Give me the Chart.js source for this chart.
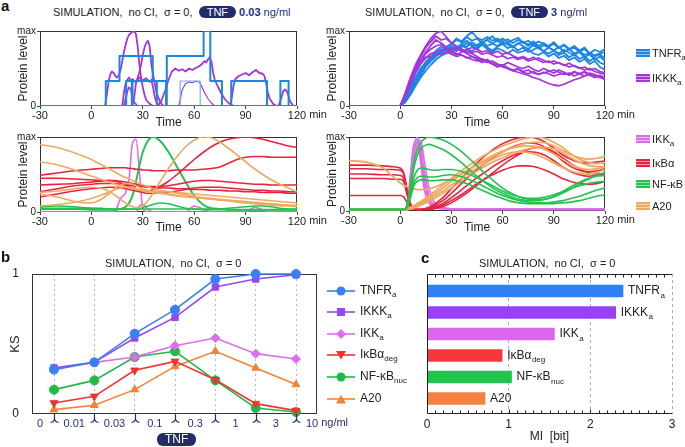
<!DOCTYPE html>
<html>
<head>
<meta charset="utf-8">
<title>TNF signalling simulation</title>
<script src="https://cdn.jsdelivr.net/npm/chart.js@4.4.1/dist/chart.umd.min.js"></script>
<style>
  body { margin: 0; background: #fff; }
  #fig { position: relative; width: 685px; height: 447px; overflow: hidden;
         font-family: "Liberation Sans", Arial, sans-serif; color: #222; }
  #fig canvas { position: absolute; }
  .txt { position: absolute; white-space: nowrap; font-size: 11px; line-height: 12px; }
  .letter { position: absolute; font-weight: bold; font-size: 15px; line-height: 16px; color: #111; }
  .pill { display: inline-block; background: #232b6c; color: #fff; border-radius: 6px;
          padding: 0 8px; height: 12px; line-height: 12px; vertical-align: top; }
  .navy { color: #252f86; }
  sub { font-size: 8px; vertical-align: baseline; position: relative; top: 3px; line-height: 0; }
  .key { position: absolute; white-space: nowrap; font-size: 11px; line-height: 12px; }
  .swatch { display: inline-block; width: 14px; height: 8px; margin-right: 2px; vertical-align: 0; }
  .lgb { position: absolute; white-space: nowrap; font-size: 12px; line-height: 14px; }
  .lgb svg { vertical-align: middle; margin-right: 4px; }
</style>
</head>
<body>
<div id="fig">
  <canvas id="aLowTop" width="340" height="112" style="left:0;top:20px"></canvas>
  <canvas id="aHighTop" width="320" height="112" style="left:315px;top:20px"></canvas>
  <canvas id="aLowBot" width="340" height="115" style="left:0;top:125px"></canvas>
  <canvas id="aHighBot" width="320" height="115" style="left:315px;top:125px"></canvas>
  <canvas id="bKS" width="360" height="205" style="left:0;top:240px"></canvas>
  <canvas id="cMI" width="335" height="205" style="left:350px;top:240px"></canvas>

  <div class="letter" style="left:1px;top:-2px">a</div>
  <div class="letter" style="left:1px;top:249px">b</div>
  <div class="letter" style="left:421px;top:250px">c</div>

  <div class="txt" style="left:53px;top:6px">SIMULATION,&nbsp; no CI,&nbsp; σ = 0,&nbsp; <span class="pill">TNF</span> <b class="navy">0.03</b> <span class="navy">ng/ml</span></div>
  <div class="txt" style="left:365px;top:6px">SIMULATION,&nbsp; no CI,&nbsp; σ = 0,&nbsp; <span class="pill">TNF</span> <b class="navy">3</b> <span class="navy">ng/ml</span></div>
  <div class="txt" style="left:105px;top:257px">SIMULATION,&nbsp; no CI,&nbsp; σ = 0</div>
  <div class="txt" style="left:479px;top:257px">SIMULATION,&nbsp; no CI,&nbsp; σ = 0</div>
  <div class="txt" style="left:157px;top:433px"><span class="pill" style="padding:0 8px;font-size:12px;height:13px;line-height:13px">TNF</span></div>

  <div class="key" style="left:636px;top:47px"><span class="swatch" style="background:repeating-linear-gradient(#1a86e6 0 2px,#8cc2f4 2px 3px)"></span>TNFR<sub>a</sub></div>
  <div class="key" style="left:636px;top:72px"><span class="swatch" style="background:repeating-linear-gradient(#a236dc 0 2px,#d5a6f0 2px 3px)"></span>IKKK<sub>a</sub></div>
  <div class="key" style="left:636px;top:133px"><span class="swatch" style="background:repeating-linear-gradient(#dc6ee8 0 2px,#f0bdf4 2px 3px)"></span>IKK<sub>a</sub></div>
  <div class="key" style="left:636px;top:157px"><span class="swatch" style="background:repeating-linear-gradient(#e8233e 0 2px,#f59aa8 2px 3px)"></span>IκBα</div>
  <div class="key" style="left:636px;top:178px"><span class="swatch" style="background:repeating-linear-gradient(#22c24f 0 2px,#96e2aa 2px 3px)"></span>NF-κB</div>
  <div class="key" style="left:636px;top:200px"><span class="swatch" style="background:repeating-linear-gradient(#eeaa62 0 2px,#f7d7b2 2px 3px)"></span>A20</div>

  <div class="lgb" style="left:326px;top:283px"><svg width="30" height="12"><line x1="1" y1="6" x2="29" y2="6" stroke="#3b7ff2" stroke-width="1.6"/><circle cx="15" cy="6" r="4.5" fill="#3b7ff2"/></svg>TNFR<sub>a</sub></div>
  <div class="lgb" style="left:326px;top:304px"><svg width="30" height="12"><line x1="1" y1="6" x2="29" y2="6" stroke="#9a46f0" stroke-width="1.6"/><rect x="11" y="2" width="8" height="8" fill="#9a46f0"/></svg>IKKK<sub>a</sub></div>
  <div class="lgb" style="left:326px;top:326px"><svg width="30" height="12"><line x1="1" y1="6" x2="29" y2="6" stroke="#dd6cf0" stroke-width="1.6"/><polygon points="15,1 20,6 15,11 10,6" fill="#dd6cf0"/></svg>IKK<sub>a</sub></div>
  <div class="lgb" style="left:326px;top:347px"><svg width="30" height="12"><line x1="1" y1="6" x2="29" y2="6" stroke="#f03232" stroke-width="1.6"/><polygon points="10,2 20,2 15,10.5" fill="#f03232"/></svg>IκBα<sub>deg</sub></div>
  <div class="lgb" style="left:326px;top:369px"><svg width="30" height="12"><line x1="1" y1="6" x2="29" y2="6" stroke="#22b84a" stroke-width="1.6"/><circle cx="15" cy="6" r="4.5" fill="#22b84a"/></svg>NF-κB<sub>nuc</sub></div>
  <div class="lgb" style="left:326px;top:391px"><svg width="30" height="12"><line x1="1" y1="6" x2="29" y2="6" stroke="#f58232" stroke-width="1.6"/><polygon points="10,10.5 20,10.5 15,2" fill="#f58232"/></svg>A20</div>
</div>

<script>
// ---- panel a : time axis ----
const timeTicks = [-30, 0, 30, 60, 90, 120];

// 0.03 ng/ml, active receptors (count of 3 = max) as step changes
const tnfrLowT = [
  [-30, 8.4, 16.4, 35.8, 43.6, 120],
  [-30, 20.3, 23.6, 81.6, 102.5, 120],
  [-30, 24, 38.2, 110.3, 115.1, 120],
  [-30, 44, 65.5, 69.4, 76.2, 120],
  [-30, 51.8, 63.5, 120]
];
const tnfrLowN = [
  [0, 1, 2, 1, 0, 0],
  [0, 1, 0, 1, 0, 0],
  [0, 1, 0, 1, 0, 0],
  [0, 2, 3, 1, 0, 0],
  [0, 1, 0, 0]
];

// 0.03 ng/ml, IKKK_a cells (% of max)
const ikkkLowT = [
  [-30,8,9,10,11,12,13,14,15,16,17,18,19,20,21,22,23,24,25,26,27,28,29,30,31,32,34,36,120],
  [-30,24,25,26,27,28,29,30,31,32,33,34,35,36,37,38,40,42,120],
  [-30,18,19,20,21,22,23,24,26,28,30,32,34,35,36,37,38,40,120],
  [-30,19,20,21,22,23,24,25,27,120],
  [-30,39,41,43,45,47,49,51,53,55,57,59,61,63,64,65,66,67,68,69,70,71,72,74,76,78,80,83,120],
  [-30,51,52,53,55,57,59,61,63,64,66,68,70,72,120],
  [-30,81,82,83,84,86,88,90,92,94,96,98,100,101,102,103,104,106,108,120],
  [-30,109,110,111,112,113,114,115,116,118,120]
];
const ikkkLowV = [
  [0,0,15,32,42,46,44,40,38,41,48,60,72,82,90,95,97,99,100,96,80,55,38,25,15,8,3,0,0],
  [0,0,12,30,38,45,55,68,78,84,87,80,55,42,30,18,6,0,0],
  [0,0,18,30,35,38,33,36,31,38,34,37,32,35,25,12,5,0,0],
  [0,0,10,20,25,22,12,5,0,0],
  [0,0,8,20,35,46,50,47,49,46,50,48,51,53,55,57,60,58,62,65,60,45,35,25,16,9,4,0,0],
  [0,0,10,22,30,32,31,33,32,28,18,10,4,0,0],
  [0,0,12,28,36,40,42,44,41,45,48,44,43,40,30,18,10,3,0,0],
  [0,0,5,12,20,22,20,14,6,0,0]
];

// 3 ng/ml, noisy TNFR_a / IKKK_a (% of max)
const noisyT = [-30,0,3,6,9,12,15,18,21,24,27,30,33,36,39,42,45,48,51,54,57,60,63,66,69,72,75,78,81,84,87,90,93,96,99,102,105,108,111,114,117,120];
const tnfrHigh = [
  [0,0,8,22,35,48,58,66,74,79,77,83,88,85,92,87,90,84,89,93,86,90,85,88,91,84,87,82,86,83,80,85,78,82,76,80,74,78,70,75,72,76],
  [0,0,6,18,30,41,52,60,66,72,75,71,78,82,79,85,81,86,80,83,88,82,85,79,83,86,80,83,77,81,78,74,79,72,76,70,73,68,71,66,69,63],
  [0,0,10,25,38,50,57,63,70,68,74,80,76,83,87,82,79,84,88,83,80,85,82,78,84,80,76,81,77,73,78,74,70,75,71,68,72,65,69,62,66,60],
  [0,0,5,15,27,38,47,55,62,67,70,76,73,79,84,80,76,82,78,74,79,83,77,80,74,78,72,75,79,73,70,74,68,71,65,69,63,66,60,64,58,55],
  [0,0,7,20,33,44,55,62,68,74,79,83,90,86,93,99,91,88,92,87,90,86,89,84,88,85,82,86,80,84,79,83,77,81,75,78,72,76,70,68,70,72],
  [0,0,9,24,37,49,59,65,71,76,72,78,74,80,77,73,78,82,76,72,77,74,70,75,71,73,76,70,68,72,66,70,64,67,61,65,59,63,56,60,52,48]
];
const ikkkHigh = [
  [0,0,18,38,55,68,80,90,97,100,92,84,80,76,72,70,66,62,58,60,56,54,58,55,52,50,53,49,46,50,47,44,48,45,42,46,43,40,44,42,39,38],
  [0,0,16,35,52,66,78,86,93,88,90,84,78,74,70,66,64,60,62,57,55,52,50,47,45,43,41,38,36,33,30,28,27,29,32,35,37,40,42,40,38,36],
  [0,0,14,30,46,60,70,76,80,82,78,75,77,73,75,71,73,69,71,68,65,67,63,65,62,64,60,62,64,61,58,60,57,55,52,54,51,48,50,46,44,42],
  [0,0,12,28,44,56,64,70,72,74,76,73,70,68,65,62,60,63,59,56,53,55,51,48,50,46,48,44,42,45,43,40,42,44,41,45,43,46,42,39,41,37],
  [0,0,15,33,50,60,65,66,68,70,72,69,66,68,64,66,62,58,60,56,52,54,50,47,49,45,43,46,42,44,46,48,45,42,44,40,43,45,41,38,40,35],
  [0,0,13,31,48,61,72,81,88,84,78,72,68,72,75,78,76,72,74,70,73,69,71,67,64,66,62,65,61,58,60,56,58,54,57,53,50,52,48,50,46,44]
];

// 0.03 ng/ml, downstream species (% of max)
const lowT = [-30,-20,-10,0,5,10,14,17,20,22,24,26,28,30,33,36,40,45,50,55,60,65,70,75,80,85,90,95,100,105,110,115,120];
const ikbaLow = [
  [49,52,55,57,58,59,59,59,59,58,58,57,57,56,56,55,55,55,56,56,56,57,58,60,65,70,73,74,74,73,73,73,73],
  [45,45,44,43,42,42,42,41,40,39,38,37,36,35,34,34,34,35,37,39,41,42,42,41,40,39,38,37,37,36,36,36,36],
  [36,37,38,40,41,42,41,39,36,34,32,30,29,28,28,30,34,41,50,60,70,79,87,93,97,99,100,99,97,94,91,88,86],
  [27,31,35,37,38,38,38,37,36,36,35,35,34,34,33,33,32,32,31,31,30,30,29,29,28,28,27,27,26,26,26,25,25],
  [20,24,28,31,32,33,33,32,31,30,29,28,27,26,25,25,25,26,28,30,32,33,33,33,32,31,30,29,29,28,28,27,27]
];
const a20Low = [
  [90,86,79,70,64,58,53,49,46,44,42,40,38,36,34,31,29,27,25,23,21,19,18,16,15,13,12,11,10,9,8,8,7],
  [67,63,56,48,44,40,37,35,33,32,31,30,29,28,27,26,25,24,22,21,20,19,18,17,16,15,14,13,12,11,10,9,8],
  [24,20,14,12,16,24,32,36,38,38,37,35,33,31,29,27,25,23,21,20,19,18,17,16,15,14,13,12,11,10,10,9,9],
  [26,28,31,33,32,28,22,17,12,9,7,6,6,8,15,25,40,58,74,87,96,100,99,93,85,76,67,58,50,43,37,32,27],
  [8,10,13,18,22,26,30,32,33,33,32,31,30,29,28,27,27,27,26,25,24,23,22,21,20,19,18,17,16,15,14,13,12]
];
const nfkbLow = [
  [4,4,4,3,3,3,3,4,7,12,22,40,62,80,95,100,95,80,60,40,22,10,5,4,3,3,3,3,3,3,3,3,3],
  [7,8,7,5,4,4,4,4,4,4,4,4,5,6,8,10,12,11,8,5,4,3,3,3,3,3,3,3,3,3,3,3,3],
  [5,5,5,5,5,4,4,4,4,4,4,4,4,4,4,4,4,4,4,4,4,4,4,4,5,6,7,8,8,7,5,4,4]
];
const ikkLow = [
  [0,0,0,0,0,0,2,18,26,45,92,97,55,5,0,0,0,0,0,0,0,0,0,0,0,0,0,0,0,0,0,0,0],
  [0,0,0,0,0,0,0,0,0,0,0,0,8,10,4,0,0,0,0,0,8,4,0,0,0,0,0,6,3,0,0,0,0]
];

// 3 ng/ml, downstream species (% of max)
const highT = [-30,-20,-10,-5,0,2,4,6,8,10,12,14,17,20,25,30,35,40,45,50,55,60,65,70,75,80,85,90,95,100,105,110,115,120];
const ikkHigh = [
  [0,0,0,0,0,0,5,40,85,100,80,45,15,6,3,2,2,2,2,2,2,2,2,2,2,2,2,2,2,2,2,2,2,2],
  [0,0,0,0,0,0,3,30,75,95,88,55,20,8,4,3,3,3,3,3,3,3,3,3,3,3,3,3,3,3,3,3,3,3],
  [0,0,0,0,0,0,8,50,90,92,65,30,10,5,3,2,2,2,2,2,2,2,2,2,2,2,2,2,2,2,2,2,2,2],
  [0,0,0,0,0,0,2,25,65,90,96,70,30,12,5,3,3,3,3,3,3,3,3,3,3,3,3,3,3,3,3,3,3,3],
  [0,0,0,0,0,0,6,45,88,97,75,38,12,5,3,2,2,2,2,2,2,2,2,2,2,2,2,2,2,2,2,2,2,2]
];
const ikbaHigh = [
  [62,62,61,60,58,52,30,10,3,2,2,3,5,9,18,30,42,54,65,75,84,91,96,99,100,98,93,85,76,70,66,65,66,68],
  [57,57,56,56,55,50,28,9,3,2,2,3,4,7,14,24,35,46,56,65,73,80,86,90,92,91,86,78,68,60,55,53,54,57],
  [50,50,49,49,48,44,25,8,3,2,2,2,3,5,10,18,27,36,45,53,61,68,74,78,80,79,75,68,60,53,49,47,48,50],
  [44,44,44,43,43,40,22,7,2,2,2,2,3,4,8,14,21,29,37,44,50,55,59,61,61,59,55,50,44,40,37,36,37,40],
  [21,21,21,21,21,19,12,5,2,2,2,2,2,3,6,11,18,26,35,44,53,62,70,77,83,86,85,80,72,64,57,52,50,50]
];
const nfkbHigh = [
  [2,2,2,2,2,2,8,35,65,82,92,97,100,99,96,90,82,72,61,50,40,31,24,19,16,15,16,19,24,30,37,43,48,52],
  [2,2,2,2,2,2,7,30,58,75,84,88,90,88,83,76,67,57,47,38,30,24,19,16,14,14,16,20,26,33,39,44,47,48],
  [2,2,2,2,2,2,6,25,45,55,58,58,56,55,56,56,54,50,45,39,33,27,22,19,17,17,19,22,26,30,34,37,39,40],
  [2,2,2,2,2,2,5,20,38,45,47,47,46,46,48,49,47,43,38,32,26,21,17,14,12,11,11,12,14,17,20,24,28,31],
  [2,2,2,2,2,2,4,18,34,40,42,42,41,41,42,42,40,36,31,26,21,17,13,11,10,10,10,10,11,12,14,17,20,22]
];
const a20High = [
  [68,66,58,48,38,35,33,31,30,29,29,29,30,32,37,43,49,56,62,68,74,80,85,89,92,93,92,88,82,76,72,70,71,74],
  [2,2,2,2,2,2,3,5,7,10,13,16,21,26,35,44,53,61,69,76,82,88,92,96,99,100,98,93,86,77,70,66,64,65],
  [2,2,2,2,2,2,2,4,6,8,11,14,18,23,31,40,48,56,63,70,76,81,85,87,88,87,83,77,70,63,58,56,57,60],
  [2,2,2,2,2,2,2,3,5,7,9,12,16,20,27,35,43,51,58,65,71,76,79,80,79,76,71,65,59,54,51,50,52,56],
  [2,2,2,2,2,2,2,3,4,6,8,10,13,17,24,31,39,47,54,61,67,72,77,81,84,86,86,84,79,72,66,62,60,60]
];

// ---- panel b : KS between neighbouring doses ----
const doseLabels = ['0', '0.01', '0.03', '0.1', '0.3', '1', '3', '10'];
const ksTNFR = [0.317, 0.369, 0.574, 0.745, 0.964, 1.0, 1.0];
const ksIKKK = [0.329, 0.369, 0.543, 0.69, 0.907, 0.964, 0.995];
const ksIKK = [0.329, 0.369, 0.407, 0.488, 0.543, 0.431, 0.393];
const ksIkBa = [0.079, 0.126, 0.312, 0.376, 0.245, 0.074, 0.024];
const ksNFkB = [0.174, 0.24, 0.407, 0.448, 0.24, 0.043, 0.014];
const ksA20 = [0.031, 0.062, 0.174, 0.34, 0.448, 0.329, 0.21];

// ---- panel c : mutual information ----
const miNames = ['TNFR', 'IKKK', 'IKK', 'IκBα', 'NF-κB', 'A20'];
const miSubs = ['a', 'a', 'a', 'deg', 'nuc', ''];
const miValues = [2.40, 2.31, 1.56, 0.92, 1.035, 0.71];
const miColors = ['#2f7ff5', '#9a3ff5', '#dc66ee', '#f4383c', '#20c64b', '#f5813e'];

const FONT = '"Liberation Sans", Arial, sans-serif';
Chart.defaults.font.family = FONT;
Chart.defaults.color = '#222';

const C_TNFR = '#1a86e6', C_IKKK = '#a236dc', C_IKK = '#dc6ee8',
      C_IKBA = '#e8233e', C_NFKB = '#22c24f', C_A20 = '#eeaa62';

function curve(ts, vs, color, width, smooth) {
  return {
    data: ts.map((t, i) => ({ x: t, y: vs[i] / 100 })),
    borderColor: color, borderWidth: width, pointRadius: 0,
    cubicInterpolationMode: smooth ? 'monotone' : 'default', tension: 0
  };
}
function steps(ts, ns, color, width) {
  return {
    data: ts.map((t, i) => ({ x: t, y: ns[i] / 3 })),
    stepped: true, borderColor: color, borderWidth: width, pointRadius: 0
  };
}

const boxFrame = {
  id: 'boxFrame',
  beforeDatasetsDraw(chart) {
    const { ctx, chartArea: a } = chart;
    ctx.save();
    ctx.strokeStyle = '#333';
    ctx.lineWidth = 1;
    ctx.strokeRect(Math.round(a.left) + 0.5, Math.round(a.top) + 0.5,
                   Math.round(a.right - a.left) - 1, Math.round(a.bottom - a.top) - 1);
    ctx.restore();
  }
};
const minUnit = {
  id: 'minUnit',
  afterDraw(chart) {
    const xs = chart.scales.x, ctx = chart.ctx;
    ctx.save();
    ctx.font = '11px ' + FONT;
    ctx.fillStyle = '#222';
    ctx.textBaseline = 'top';
    const x = xs.getPixelForValue(120) + ctx.measureText('120').width / 2 + 3;
    ctx.fillText('min', x, chart.chartArea.bottom + 3);
    ctx.restore();
  }
};

function elBox(id) {
  const el = document.getElementById(id);
  return { el, x: parseFloat(el.style.left), y: parseFloat(el.style.top), w: el.width, h: el.height };
}

function timeChart(id, area, sets) {
  const box = elBox(id);
  const axisLeft = area.l - 23.2;
  const xH = area.titleY + 7.2 - area.b;
  return new Chart(box.el, {
    type: 'line',
    data: { datasets: sets },
    options: {
      responsive: false, animation: false, events: [],
      layout: { padding: { left: axisLeft - box.x, top: area.t - box.y,
                           right: box.x + box.w - area.r, bottom: box.y + box.h - area.b - xH } },
      plugins: { legend: { display: false }, tooltip: { enabled: false } },
      elements: { line: { borderJoinStyle: 'round' } },
      scales: {
        x: {
          type: 'linear', min: -30, max: 120,
          afterBuildTicks: s => { s.ticks = timeTicks.map(v => ({ value: v })); },
          ticks: { font: { size: 11 }, color: '#222', padding: 0, maxRotation: 0, autoSkip: false,
                   callback: v => String(v) },
          grid: { drawOnChartArea: false, tickLength: 3, color: '#444' },
          border: { display: false },
          title: { display: true, text: 'Time', font: { size: 12 }, color: '#222', padding: 0 },
          afterFit: s => { s.height = xH; }
        },
        y: {
          type: 'linear', min: 0, max: 1,
          afterBuildTicks: s => { s.ticks = [{ value: 0 }, { value: 1 }]; },
          ticks: { font: { size: 10 }, color: '#222', padding: 1, callback: v => v === 1 ? 'max' : '0' },
          grid: { drawOnChartArea: false, tickLength: 3, color: '#444' },
          border: { display: false },
          title: { display: true, text: 'Protein level', font: { size: 12 }, color: '#222', padding: 0 },
          afterFit: s => { s.width = area.l - axisLeft; }
        }
      }
    },
    plugins: [boxFrame, minUnit]
  });
}

// top left: 0.03 ng/ml receptors and IKKK
const lowTopSets = [];
tnfrLowT.forEach((t, i) => lowTopSets.push(
  steps(t, tnfrLowN[i], i === 4 ? '#6cb2f0' : C_TNFR, i === 4 ? 1.2 : 2)));
ikkkLowT.forEach((t, i) => lowTopSets.push(curve(t, ikkkLowV[i], C_IKKK, i === 5 ? 1.2 : 1.8, false)));
timeChart('aLowTop', { l: 40, t: 31, r: 297, b: 106, titleY: 123 }, lowTopSets);

// top right: 3 ng/ml
const highTopSets = [];
ikkkHigh.forEach(v => highTopSets.push(curve(noisyT, v, C_IKKK, 1.8, false)));
tnfrHigh.forEach(v => highTopSets.push(curve(noisyT, v, C_TNFR, 1.8, false)));
timeChart('aHighTop', { l: 349, t: 31, r: 605, b: 106, titleY: 123 }, highTopSets);

// bottom left: 0.03 ng/ml downstream
const lowBotSets = [];
a20Low.forEach(v => lowBotSets.push(curve(lowT, v, C_A20, 1.6, true)));
ikbaLow.forEach(v => lowBotSets.push(curve(lowT, v, C_IKBA, 1.6, true)));
nfkbLow.forEach((v, i) => lowBotSets.push(curve(lowT, v, C_NFKB, i === 0 ? 2 : 1.6, true)));
ikkLow.forEach(v => lowBotSets.push(curve(lowT, v, C_IKK, 1.6, true)));
timeChart('aLowBot', { l: 40, t: 137, r: 297, b: 212, titleY: 228 }, lowBotSets);

// bottom right: 3 ng/ml downstream
const highBotSets = [];
nfkbHigh.forEach(v => highBotSets.push(curve(highT, v, C_NFKB, 1.6, true)));
a20High.forEach(v => highBotSets.push(curve(highT, v, C_A20, 1.8, true)));
ikbaHigh.forEach(v => highBotSets.push(curve(highT, v, C_IKBA, 1.6, true)));
ikkHigh.forEach(v => highBotSets.push(curve(highT, v, C_IKK, 1.6, true)));
timeChart('aHighBot', { l: 349, t: 137, r: 605, b: 211, titleY: 228 }, highBotSets);

// ---- panel b ----
const NAVY = '#252f86';
const ksSeries = [
  { v: ksTNFR, c: '#3b7ff2', s: 'circle', r: 0 },
  { v: ksIKKK, c: '#9a46f0', s: 'rect', r: 0 },
  { v: ksIKK, c: '#dd6cf0', s: 'rectRot', r: 0 },
  { v: ksIkBa, c: '#f03232', s: 'triangle', r: 180 },
  { v: ksNFkB, c: '#22b84a', s: 'circle', r: 0 },
  { v: ksA20, c: '#f58232', s: 'triangle', r: 0 }
];
// dose labels sit on the borders between compared doses, points in between
const ksMin = -0.0455, ksMax = 7.02;
const ksTickPos = [0.153];
const ksTickTxt = [doseLabels[0]];
for (let k = 1; k < doseLabels.length; k++) {
  ksTickPos.push(k - 0.5); ksTickTxt.push('');
  ksTickPos.push(k === doseLabels.length - 1 ? 6.897 : k); ksTickTxt.push(doseLabels[k]);
}

const doseMarks = {
  id: 'doseMarks',
  afterDraw(chart) {
    const xs = chart.scales.x, ctx = chart.ctx, b = chart.chartArea.bottom;
    ctx.save();
    ctx.strokeStyle = NAVY;
    ctx.lineWidth = 1.2;
    for (let i = 0; i < ksTNFR.length; i++) {
      const x = Math.round(xs.getPixelForValue(i + 0.5)) + 0.5;
      ctx.beginPath();
      ctx.moveTo(x, b);
      ctx.lineTo(x, b + 5);
      ctx.moveTo(x - 4, b + 8.5);
      ctx.quadraticCurveTo(x - 0.5, b + 8, x, b + 5);
      ctx.quadraticCurveTo(x + 0.5, b + 8, x + 4, b + 8.5);
      ctx.stroke();
    }
    ctx.font = '11px ' + FONT;
    ctx.fillStyle = NAVY;
    ctx.textBaseline = 'top';
    const x10 = xs.getPixelForValue(6.897) + ctx.measureText('10').width / 2 + 3;
    ctx.fillText('ng/ml', x10, b + 3);
    ctx.restore();
  }
};

(function () {
  const box = elBox('bKS');
  const area = { l: 32, t: 274, r: 317, b: 414 };
  const axisLeft = 7.2, xH = 22;
  new Chart(box.el, {
    type: 'line',
    data: {
      datasets: ksSeries.map(s => ({
        data: s.v.map((v, i) => ({ x: i + 0.5, y: v })),
        borderColor: s.c, backgroundColor: s.c, borderWidth: 1.6,
        pointStyle: s.s, pointRotation: s.r, pointRadius: 4.5,
        pointBackgroundColor: s.c, pointBorderColor: s.c, pointBorderWidth: 1,
        tension: 0, clip: false
      }))
    },
    options: {
      responsive: false, animation: false, events: [],
      layout: { padding: { left: axisLeft - box.x, top: area.t - box.y,
                           right: box.x + box.w - area.r, bottom: box.y + box.h - area.b - xH } },
      plugins: { legend: { display: false }, tooltip: { enabled: false } },
      scales: {
        x: {
          type: 'linear', min: ksMin, max: ksMax,
          afterBuildTicks: s => { s.ticks = ksTickPos.map(v => ({ value: v })); },
          ticks: { font: { size: 11 }, color: NAVY, padding: 3, maxRotation: 0, autoSkip: false,
                   callback: (v, i) => ksTickTxt[i] },
          grid: { drawTicks: false, lineWidth: 1,
                  color: c => (c.tick && ksTickTxt[c.index] === '') ? '#b8b8b8' : 'rgba(0,0,0,0)' },
          border: { display: false, dash: [2, 3] },
          afterFit: s => { s.height = xH; }
        },
        y: {
          type: 'linear', min: 0, max: 1,
          afterBuildTicks: s => { s.ticks = [{ value: 0 }, { value: 1 }]; },
          ticks: { font: { size: 12 }, color: '#222', padding: 5, callback: v => String(v) },
          grid: { display: false },
          border: { display: false },
          title: { display: true, text: 'KS', font: { size: 13 }, color: '#222', padding: 0 },
          afterFit: s => { s.width = area.l - axisLeft; }
        }
      }
    },
    plugins: [boxFrame, doseMarks]
  });
})();

// ---- panel c ----
function drawSub(ctx, main, sub, x, y, size) {
  ctx.save();
  ctx.fillStyle = '#222';
  ctx.textBaseline = 'middle';
  ctx.textAlign = 'left';
  ctx.font = size + 'px ' + FONT;
  ctx.fillText(main, x, y);
  const w = ctx.measureText(main).width;
  if (sub) {
    ctx.font = Math.round(size * 0.68) + 'px ' + FONT;
    ctx.fillText(sub, x + w + 0.5, y + size * 0.38);
  }
  ctx.restore();
}
const barLabels = {
  id: 'barLabels',
  afterDatasetsDraw(chart) {
    const meta = chart.getDatasetMeta(0);
    meta.data.forEach((bar, i) => drawSub(chart.ctx, miNames[i], miSubs[i], bar.x + 5, bar.y, 12));
  }
};
const miFrame = {
  id: 'miFrame',
  afterDatasetsDraw(chart) {
    const { ctx, chartArea: a } = chart, xs = chart.scales.x;
    const l = Math.round(a.left) + 0.5, t = Math.round(a.top) + 0.5, b = Math.round(a.bottom) - 0.5;
    ctx.save();
    ctx.strokeStyle = '#222';
    ctx.lineWidth = 1;
    ctx.beginPath();
    ctx.moveTo(a.right, t); ctx.lineTo(l, t); ctx.lineTo(l, b); ctx.lineTo(a.right, b);
    for (let k = 1; k < 30; k++) {
      const x = Math.round(xs.getPixelForValue(k / 10)) + 0.5;
      const len = k % 10 === 0 ? 4 : 3;
      ctx.moveTo(x, t); ctx.lineTo(x, t + len);
      ctx.moveTo(x, b); ctx.lineTo(x, b - len);
    }
    ctx.stroke();
    ctx.restore();
  }
};

(function () {
  const box = elBox('cMI');
  const area = { l: 427, t: 274, r: 672, b: 414 };
  const xH = 437 + 7.2 - area.b;
  new Chart(box.el, {
    type: 'bar',
    data: {
      datasets: [{
        data: miValues.map((v, i) => ({ x: v, y: i })),
        backgroundColor: miColors, barThickness: 12, borderWidth: 0
      }]
    },
    options: {
      indexAxis: 'y',
      responsive: false, animation: false, events: [],
      layout: { padding: { left: 0, top: area.t - box.y,
                           right: box.x + box.w - area.r, bottom: box.y + box.h - area.b - xH } },
      plugins: { legend: { display: false }, tooltip: { enabled: false } },
      scales: {
        x: {
          type: 'linear', min: 0, max: 3,
          afterBuildTicks: s => { s.ticks = [0, 1, 2, 3].map(v => ({ value: v })); },
          ticks: { font: { size: 12 }, color: '#222', padding: 3, callback: v => String(v) },
          grid: { drawTicks: false, color: c => (c.tick && c.tick.value > 0) ? '#adadad' : 'rgba(0,0,0,0)' },
          border: { display: false, dash: [3, 3] },
          title: { display: true, text: 'MI  [bit]', font: { size: 12 }, color: '#222', padding: 0 },
          afterFit: s => { s.height = xH; }
        },
        y: {
          type: 'linear', reverse: true, min: -0.79, max: 5.72, offset: false,
          grid: { display: false, offset: false },
          ticks: { display: false }, border: { display: false },
          afterFit: s => { s.width = area.l - box.x; }
        }
      }
    },
    plugins: [miFrame, barLabels]
  });
})();
</script>
</body>
</html>
